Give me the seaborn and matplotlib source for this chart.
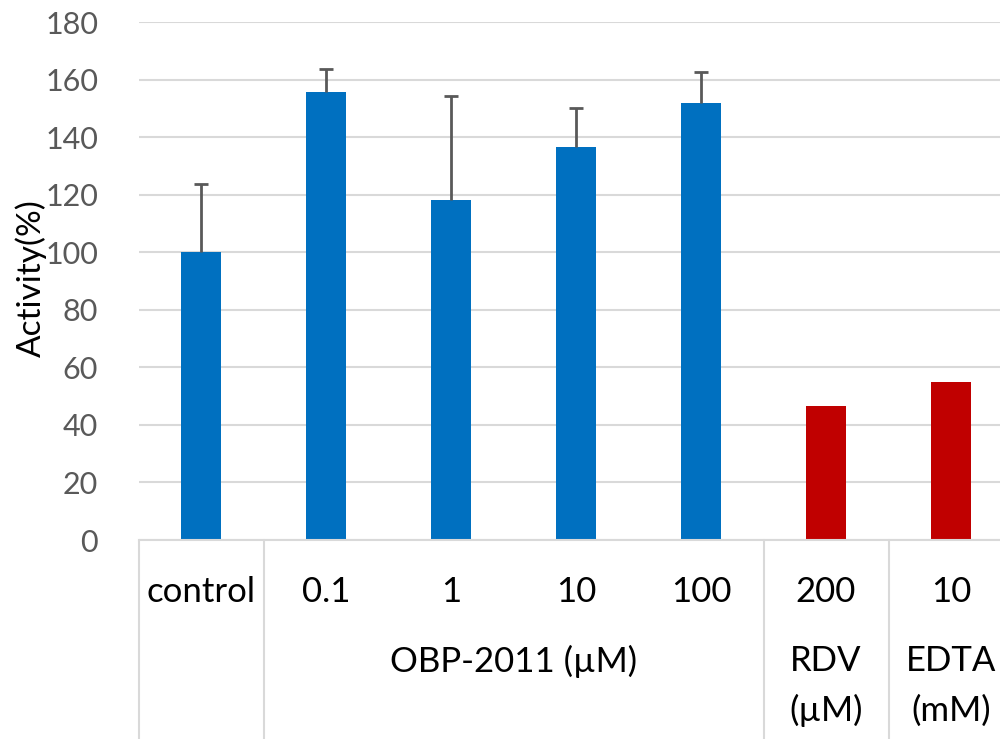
import seaborn as sns
import numpy as np
import matplotlib.pyplot as plt
import matplotlib.transforms as mtransforms
import pandas as pd

" DATA "
categories = ['control', '0.1', '1', '10', '100', '200', '10 ']
activity = [100, 155.7, 118.1, 136.6, 151.7, 46.4, 55.0]
err_up = [23.8, 8.0, 36.2, 13.6, 10.9]
bar_colors = ['#0070C0'] * 5 + ['#C00000'] * 2
group_labels = ['OBP-2011 (µM)', 'RDV\n(µM)', 'EDTA\n(mM)']
group_pos = [2.5, 5, 6]
separators = [-0.5, 0.5, 4.5, 5.5, 6.5]
yticks = np.arange(0, 181, 20)

sns.set_style("white")
plt.rcParams['font.family'] = ['Lato', 'DejaVu Sans']

df = pd.DataFrame({'cat': categories, 'activity': activity})

fig = plt.figure(figsize=(10, 7.39), dpi=100)
ax = fig.add_axes([0.1385, 1 - 540 / 739, 0.875, 518 / 739])

sns.barplot(data=df, x='cat', y='activity', hue='cat', palette=bar_colors,
            legend=False, width=0.32, linewidth=0, saturation=1, ax=ax)
n_err = len(err_up)
eb = ax.errorbar(np.arange(n_err), activity[:n_err],
                 yerr=[np.zeros(n_err), err_up], fmt='none',
                 ecolor='#595959', elinewidth=2, capsize=4.7, capthick=2, zorder=3)
# only the upper caps are shown
for cap in eb[1]:
    if np.allclose(cap.get_ydata(), activity[:n_err]):
        cap.set_visible(False)

ax.set_ylim(0, 180)
ax.set_xlim(-0.5, 6.5)
ax.set_yticks(yticks)
ax.yaxis.grid(True, color='#d9d9d9', linewidth=1.5)
ax.set_axisbelow(True)
ax.tick_params(axis='y', length=0, pad=29, labelsize=22, labelcolor='#595959')
ax.set_xticks([])
ax.set_xlabel('')
for s in ['left', 'right', 'top']:
    ax.spines[s].set_visible(False)
ax.spines['bottom'].set_color('#d9d9d9')
ax.spines['bottom'].set_linewidth(1.5)

ax.set_ylabel('Activity(%)', fontsize=24, color='black')
ax.yaxis.set_label_coords(-0.105, 0.505)

# category table below the axis
trans = mtransforms.blended_transform_factory(ax.transData, ax.transAxes)
for x in separators:
    ax.plot([x, x], [0, -0.39], transform=trans, color='#d9d9d9',
            linewidth=1.5, clip_on=False)
for i, lab in enumerate(categories):
    ax.text(i, -0.10, lab.strip(), transform=trans, ha='center', va='center',
            fontsize=25, color='black')
for x, lab in zip(group_pos, group_labels):
    for j, line in enumerate(lab.split('\n')):
        ax.text(x, -0.234 - 0.095 * j, line, transform=trans, ha='center',
                va='center', fontsize=25, color='black')

fig.savefig('out.png', dpi=100)
